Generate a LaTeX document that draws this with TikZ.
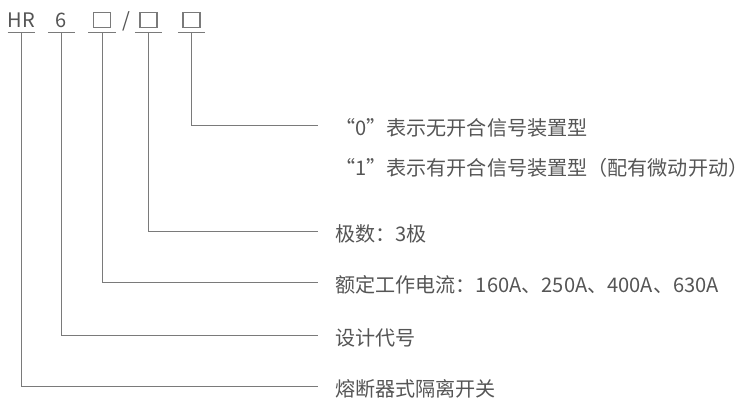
\documentclass[tikz,border=0pt]{standalone}
\usepackage{fontspec}
\setmainfont{Noto Sans CJK SC}
\usepackage{tikz}
\usetikzlibrary{positioning}
\definecolor{inkgray}{HTML}{555555}
\definecolor{linegray}{HTML}{7A7A7A}
\tikzset{
  code/.style={anchor=south, inner xsep=0pt, inner ysep=4pt, minimum width=27pt,
    text height=15pt, text depth=0pt, font=\fontsize{20}{20}\selectfont, text=inkgray},
  slot/.style={code, path picture={\draw[linegray, line width=1.1pt]
    ([xshift=-8.5pt, yshift=4pt]path picture bounding box.south) rectangle ++(17pt,15pt);}},
  uline/.style={draw=linegray, line width=1pt},
  lead/.style={draw=linegray, line width=1pt},
  desc/.style={anchor=west, inner xsep=0pt, inner ysep=0pt, text height=21pt, text depth=0pt,
    font=\fontsize{20.1}{21}\selectfont, text=inkgray}
}

\begin{document}
\begin{tikzpicture}[x=1pt, y=-1pt]
\useasboundingbox (0,0) rectangle (751,408);
\node[code] (hr) at (21.5,32) {HR};
\node[code] (six) at (61.5,32) {6};
\node[slot] (amp) at (102,32) {};
\node[code, minimum width=0pt] (sep) at (126.5,32) {/};
\node[slot] (pole) at (148.5,32) {};
\node[slot] (aux) at (191.5,32) {};
\foreach \n in {hr,six,amp,pole,aux}
  \draw[uline] (\n.south west) -- (\n.south east);

\node[desc] (nosig) at (335,125) {“0”表示无开合信号装置型};
\node[desc] (sig) at (335,165) {“1”表示有开合信号装置型（配有微动开动）};
\node[desc] (poles) at (335,231) {极数：3极};
\node[desc] (rated) at (335,282) {额定工作电流：160A、250A、400A、630A};
\node[desc] (design) at (335,335) {设计代号};
\node[desc] (kind) at (335,386) {熔断器式隔离开关};

\draw[lead] (aux.south) |- ([xshift=-17pt]nosig.west);
\draw[lead] (pole.south) |- ([xshift=-17pt]poles.west);
\draw[lead] (amp.south) |- ([xshift=-17pt]rated.west);
\draw[lead] (six.south) |- ([xshift=-17pt]design.west);
\draw[lead] (hr.south) |- ([xshift=-17pt]kind.west);
\end{tikzpicture}
\end{document}
